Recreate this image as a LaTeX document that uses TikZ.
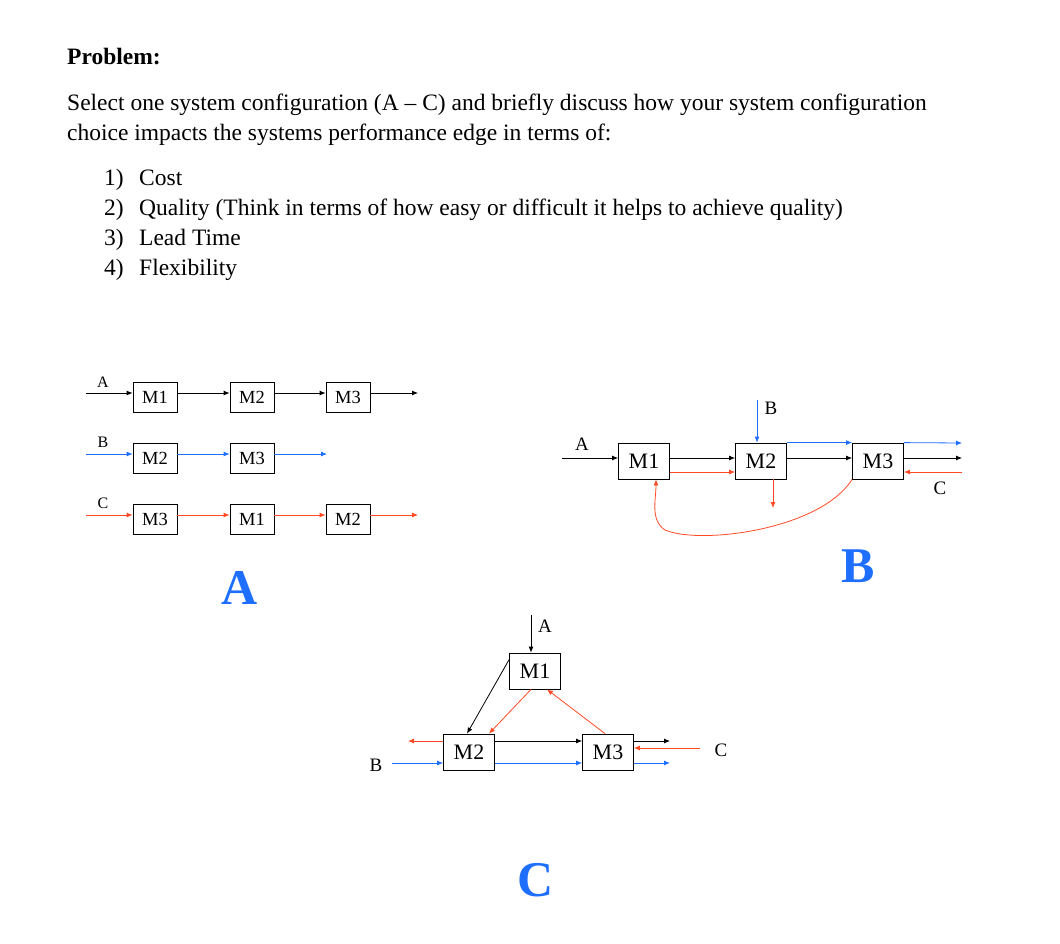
\documentclass[tikz,border=0pt]{standalone}
\usepackage{fontspec}
\setmainfont{Liberation Serif}
\usetikzlibrary{arrows.meta}
\definecolor{flowblue}{HTML}{1E6FFF}
\definecolor{flowred}{HTML}{FF4A24}
\tikzset{
  mach/.style={draw, thick, inner sep=0pt, minimum width=44pt, minimum height=30pt, font=\fontsize{18.5}{18.5}\selectfont},
  bigmach/.style={mach, minimum width=51pt, minimum height=36pt, font=\fontsize{22}{22}\selectfont},
  flow/.style={-{Latex[length=6pt,width=5pt]}, thick},
  lab/.style={font=\fontsize{16}{16}\selectfont},
  blab/.style={font=\fontsize{19}{19}\selectfont},
  biglab/.style={text=flowblue, font=\fontsize{50}{50}\selectfont\bfseries}
}
\begin{document}
\begin{tikzpicture}[x=1pt,y=-1pt]
\useasboundingbox (0,0) rectangle (1060,943);

% Problem text
\node[anchor=base west, inner sep=0pt, font=\fontsize{23.5}{23.5}\selectfont\bfseries] (title) at (67,64) {Problem:};
\node[anchor=base west, inner sep=0pt, font=\fontsize{23.5}{23.5}\selectfont] (line1) at (67,110) {Select one system configuration (A -- C) and briefly discuss how your system configuration};
\node[anchor=base west, inner sep=0pt, font=\fontsize{23.5}{23.5}\selectfont] (line2) at (67,140) {choice impacts the systems performance edge in terms of:};
\foreach \y/\num/\txt in {185/1/Cost, 215/2/{Quality (Think in terms of how easy or difficult it helps to achieve quality)}, 245/3/Lead Time, 275/4/Flexibility} {
    \node[anchor=base west, inner sep=0pt, font=\fontsize{23.5}{23.5}\selectfont] (n\num) at (104,\y) {\num)};
    \node[anchor=base west, inner sep=0pt, font=\fontsize{23.5}{23.5}\selectfont] (t\num) at (139,\y) {\txt};
}

% Configuration A
\node[mach] (a1) at (155,397) {M1};
\node[mach] (a2) at (252,397) {M2};
\node[mach] (a3) at (348,397) {M3};
\coordinate (ain) at (86,393);
\coordinate (aout) at (418,393);
\draw[flow] (ain) -- (a1.west |- ain);
\draw[flow] (a1.east |- ain) -- (a2.west |- ain);
\draw[flow] (a2.east |- ain) -- (a3.west |- ain);
\draw[flow] (a3.east |- ain) -- (aout);
\node[lab] (alab) at (103,382) {A};

\node[mach] (b1) at (155,458) {M2};
\node[mach] (b2) at (252,458) {M3};
\coordinate (bin) at (86,454);
\coordinate (bout) at (327,454);
\draw[flow, flowblue] (bin) -- (b1.west |- bin);
\draw[flow, flowblue] (b1.east |- bin) -- (b2.west |- bin);
\draw[flow, flowblue] (b2.east |- bin) -- (bout);
\node[lab] (blab) at (103,442) {B};

\node[mach] (c1) at (155,519) {M3};
\node[mach] (c2) at (252,519) {M1};
\node[mach] (c3) at (348,519) {M2};
\coordinate (cin) at (86,515);
\coordinate (cout) at (418,515);
\draw[flow, flowred] (cin) -- (c1.west |- cin);
\draw[flow, flowred] (c1.east |- cin) -- (c2.west |- cin);
\draw[flow, flowred] (c2.east |- cin) -- (c3.west |- cin);
\draw[flow, flowred] (c3.east |- cin) -- (cout);
\node[lab] (clab) at (103,503) {C};

\node[biglab] (bigA) at (240,588) {A};

% Configuration B
\node[bigmach] (p1) at (644,461) {M1};
\node[bigmach] (p2) at (761,461) {M2};
\node[bigmach] (p3) at (878,461) {M3};
\coordinate (pin) at (562,458);
\coordinate (pb) at (757,400);
\coordinate (pblue) at (962,443);
\coordinate (pblack) at (962,458);
\coordinate (pred) at (962,472);
\coordinate (pdown) at (773,508);
\draw[flow] (pin) -- (p1.west |- pin);
\draw[flow] (p1.east |- pin) -- (p2.west |- pin);
\draw[flow] (p2.east |- pin) -- (p3.west |- pin);
\draw[flow] (p3.east |- pin) -- (pblack);
\draw[flow, flowred] (p1.east |- pred) -- (p2.west |- pred);
\draw[flow, flowred] (pred) -- (p3.east |- pred);
\draw[flow, flowblue] (pb) -- (pb |- p2.north);
\draw[flow, flowblue] (p2.north east) -- (p3.north west);
\draw[flow, flowblue] (p3.north east) -- (pblue);
\draw[flow, flowred] (pdown |- p2.south) -- (pdown);
\draw[flow, flowred] (p3.south west) .. controls (820,530) and (700,545) .. (665,530) .. controls (650,520) and (656,500) .. ([xshift=12pt]p1.south);
\node[blab] (plabA) at (582,444) {A};
\node[blab] (plabB) at (771,408) {B};
\node[blab] (plabC) at (940,488) {C};
\node[biglab] (bigB) at (858,566) {B};

% Configuration C
\node[bigmach] (q1) at (535,671) {M1};
\node[bigmach] (q2) at (469,752) {M2};
\node[bigmach] (q3) at (608,752) {M3};
\coordinate (qa) at (531,615);
\coordinate (qbin) at (392,763);
\coordinate (qblue) at (670,763);
\coordinate (qblack) at (670,741);
\coordinate (qred) at (700,748);
\coordinate (qredout) at (408,741);
\draw[flow] (qa) -- (qa |- q1.north);
\draw[flow] ([yshift=-7pt]q1.north west) -- ([xshift=-2pt]q2.north);
\draw[flow, flowred] ([xshift=-4pt]q1.south) -- ([xshift=20pt]q2.north);
\draw[flow, flowred] ([xshift=-3pt]q3.north) -- ([xshift=12pt]q1.south);
\draw[flow] (q2.east |- qblack) -- (q3.west |- qblack);
\draw[flow] (q3.east |- qblack) -- (qblack);
\draw[flow, flowred] (qred) -- (q3.east |- qred);
\draw[flow, flowred] (q2.west |- qredout) -- (qredout);
\draw[flow, flowblue] (qbin) -- (q2.west |- qbin);
\draw[flow, flowblue] (q2.east |- qbin) -- (q3.west |- qbin);
\draw[flow, flowblue] (q3.east |- qbin) -- (qblue);
\node[blab] (qlabA) at (545,626) {A};
\node[blab] (qlabB) at (376,765) {B};
\node[blab] (qlabC) at (721,750) {C};
\node[biglab] (bigC) at (536,880) {C};
\end{tikzpicture}
\end{document}
